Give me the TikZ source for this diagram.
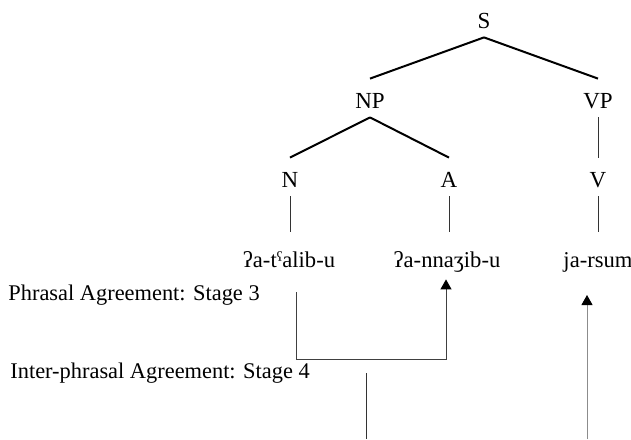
\documentclass[tikz,border=0pt]{standalone}
\usepackage{fontspec}
\setmainfont{Liberation Serif}
\usetikzlibrary{arrows.meta}
\tikzstyle{cat}=[inner sep=0pt,anchor=base,text height=14.5pt,text depth=4.5pt,font=\fontsize{11.5}{13}\selectfont]
\tikzstyle{word}=[inner sep=0pt,anchor=base,text height=17.5pt,text depth=6pt,font=\fontsize{11.3}{13}\selectfont]
\tikzstyle{stage}=[inner sep=0pt,anchor=base west,font=\fontsize{11.2}{13}\selectfont]
\tikzstyle{branch}=[draw=black,line width=1pt]
\tikzstyle{stem}=[draw=black!80,line width=0.5pt]
\tikzstyle{arr}=[-{Triangle[width=5.5pt,length=5pt,black]},draw=black!75,line width=0.5pt]

\begin{document}
\begin{tikzpicture}[x=0.5pt,y=-0.5pt]
  \useasboundingbox (0,0) rectangle (631,439);
  %Nodes
  \node[cat]   (S)   at (484,28)  {S};
  \node[cat]   (NP)  at (370,108) {NP};
  \node[cat]   (VP)  at (598,108) {VP};
  \node[cat]   (N)   at (290,187) {N};
  \node[cat]   (A)   at (449,187) {A};
  \node[cat]   (V)   at (598,187) {V};
  \node[word]  (Nw)  at (289,267) {ʔa-tˤalib-u};
  \node[word]  (Aw)  at (447,267) {ʔa-nnaʒib-u};
  \node[word]  (Vw)  at (598,267) {ja-rsum};

  \node[stage] (st3) at (8,300)  {Phrasal Agreement: Stage 3};
  \node[stage] (st4) at (10,378) {Inter-phrasal Agreement: Stage 4};

  \coordinate (e1) at (296,292);
  \coordinate (e2) at (446,359);
  \coordinate (m1) at (366,373);
  \coordinate (m2) at (366,439);
  \coordinate (r1) at (587,439);
  \coordinate (r2) at (587,295);
  %Lines
  \draw[branch] (S.south) -- (NP.north);
  \draw[branch] (S.south) -- (VP.north);
  \draw[branch] (NP.south) -- (N.north);
  \draw[branch] (NP.south) -- (A.north);
  \draw[stem] (VP.south) -- (V.north);
  \draw[stem] (N.south) -- (N.south |- Nw.north);
  \draw[stem] (A.south) -- (A.south |- Aw.north);
  \draw[stem] (V.south) -- (Vw.north);
  \draw[arr] (e1) |- (e2) -- (e2 |- Aw.south);
  \draw[stem] (m1) -- (m2);
  \draw[arr,draw=black!45] (r1) -- (r2);
\end{tikzpicture}
\end{document}
